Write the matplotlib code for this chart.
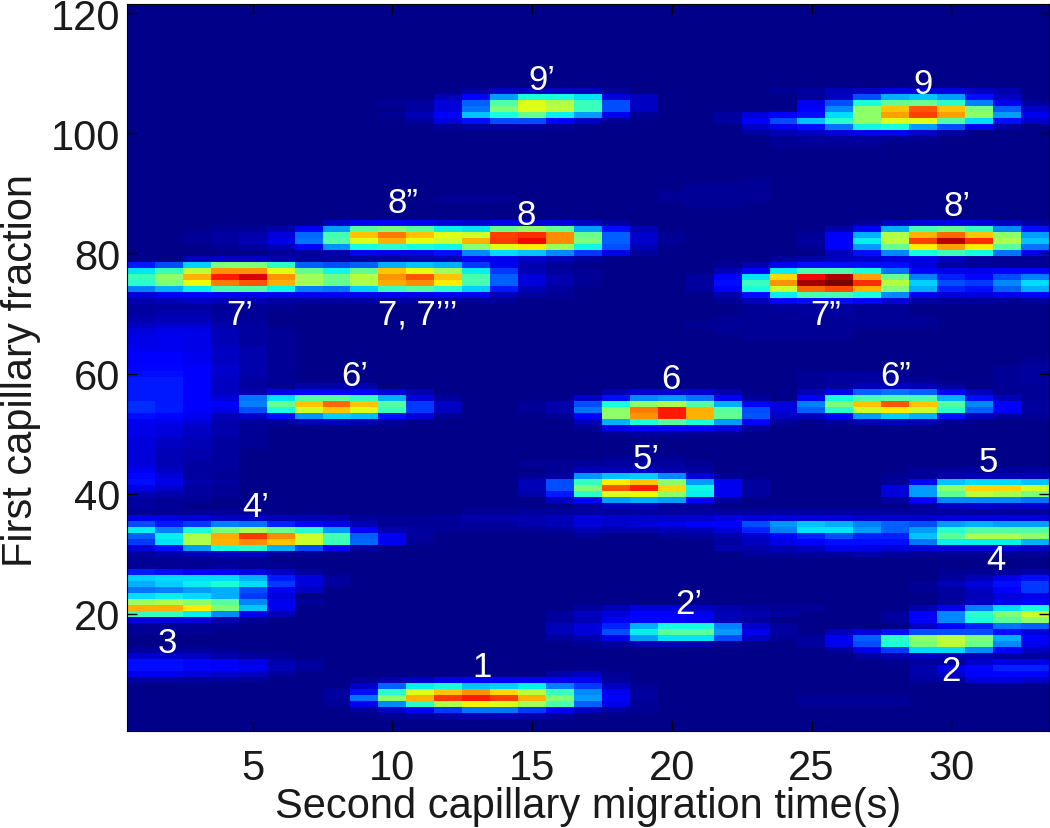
import numpy as np
import matplotlib
matplotlib.use('Agg')
import matplotlib.pyplot as plt

plt.rcParams['font.family'] = ['Liberation Sans', 'DejaVu Sans']

# Intensity, 0-100 on the jet scale. Each list is one
# row of the image, 33 columns. Rows not listed stay at the background.
background = 1
n_rows = 121
n_cols = 33

# rows 107 down to 98
spots_9 = [
    [1,1,1,1,1,1,1,1,1,1,1, 1,3,6,6,6,5,3,1,1,1,1, 1,2,3,5,6,8,8,8,6,4,1],
    [1,1,1,1,1,1,1,1,1,1,1, 5,12,28,38,38,35,8,6,1,1,1, 1,1,2,6,20,30,32,28,14,6,1],
    [1,1,1,1,1,1,1,1,1,2,3, 8,22,45,62,56,42,20,6,1,1,1, 1,1,10,20,38,47,48,40,25,10,3],
    [1,1,1,1,1,1,1,1,1,1,3, 8,24,50,62,58,42,20,6,1,1,1, 1,1,12,26,52,70,82,70,50,22,7],
    [1,1,1,1,1,1,1,1,1,2,5, 11,32,38,48,36,28,10,2,1,1,3, 8,12,14,34,52,74,84,74,52,28,10],
    [1,1,1,1,1,1,1,1,1,1,3, 8,14,20,20,12,6,2,1,1,1,3, 12,20,32,40,52,62,62,45,34,14,7],
    [1,1,1,1,1,1,1,1,1,1,1, 2,3,3,3,2,1,1,1,1,1,1, 6,10,14,24,37,38,28,20,10,3,1],
    [1,1,1,1,1,1,1,1,1,1,1, 1,1,1,1,1,1,1,1,1,1,1, 3,4,6,8,9,10,7,3,1,1,1],
    [1,1,1,1,1,1,1,1,1,1,1, 1,1,1,1,1,1,1,1,1,1,1, 1,2,3,3,3,2,2,1,1,1,1],
    [1,1,1,1,1,1,1,1,1,1,1, 1,1,1,1,1,1,1,1,1,1,1, 1,2,2,2,2,1,1,1,1,1,1],
]

# rows 92 down to 88
faint_patch = [
    [1,1,1,1,1,1,1,1,1,1,1, 1,1,1,1,1,1,1,1,1,1,1, 2,1,1,1,1,1,1,1,1,1,1],
    [1,1,1,1,1,1,1,1,1,1,1, 1,1,1,1,1,1,1,1,1,2,2, 2,1,1,1,1,1,1,1,1,1,1],
    [1,1,1,1,1,1,1,1,1,1,1, 1,1,1,1,1,1,1,1,2,2,2, 2,1,1,1,1,1,1,1,1,1,1],
    [1,1,1,1,1,1,1,1,1,1,1, 2,2,2,1,1,1,1,1,2,2,2, 2,1,1,1,1,1,1,1,1,1,1],
    [1,1,1,1,1,1,1,1,1,1,1, 1,1,1,1,1,1,1,1,1,2,2, 1,1,1,1,1,1,1,1,1,1,1],
]

# rows 85 down to 72
spots_7_8 = [
    [1,1,1,1,1,1,1,6,10,12,10, 8,7,9,8,8,6,3,1,1,1,1, 1,1,1,1,2,6,8,9,8,6,3],
    [1,1,1,2,2,4,12,28,46,50,46, 36,35,48,52,47,28,14,5,1,1,1, 1,1,1,4,12,30,44,48,42,26,14],
    [1,1,2,3,4,8,23,43,70,78,70, 62,60,84,86,76,48,22,7,2,1,1, 1,1,2,12,30,56,72,80,70,52,28],
    [1,1,2,3,5,9,24,45,62,72,63, 60,72,85,90,76,50,22,7,2,1,1, 1,1,3,12,36,58,84,95,86,56,32],
    [1,1,1,2,3,5,13,27,38,40,38, 37,52,62,66,54,37,20,5,1,1,1, 1,1,2,11,28,48,66,74,66,46,24],
    [1,1,1,1,1,2,3,4,10,9,9, 14,26,34,32,26,18,9,3,1,1,1, 1,1,1,5,14,26,38,43,38,24,10],
    [1,1,5,6,6,4,3,3,3,3,4, 5,10,10,7,5,3,1,1,1,1,1, 1,3,4,6,7,8,9,6,3,2,2],
    [15,20,33,50,50,40,22,20,22,30,32, 30,18,10,4,2,1,1,1,1,1,2, 5,10,14,14,14,14,8,3,2,2,2],
    [35,42,58,75,75,62,47,37,47,70,63, 55,36,18,5,3,2,1,1,1,1,5, 12,36,44,44,38,24,11,9,9,11,12],
    [42,52,72,88,92,75,55,48,57,75,82, 70,44,22,8,4,2,1,1,1,3,12, 35,68,90,96,74,48,25,16,13,20,25],
    [40,50,64,78,82,72,55,47,56,73,76, 66,44,22,8,4,2,1,1,1,3,14, 42,75,97,100,86,57,33,20,18,26,34],
    [25,30,36,44,45,37,25,24,33,42,45, 40,33,15,5,3,1,1,1,1,3,12, 38,60,80,83,72,50,30,16,14,22,30],
    [8,10,12,10,10,10,10,10,10,10,10, 10,10,5,3,2,1,1,1,1,1,4, 14,36,44,44,38,26,10,8,8,10,12],
    [4,5,6,5,4,3,3,3,3,3,3, 3,2,2,1,1,1,1,1,1,1,2, 5,11,14,14,12,8,3,2,2,2,3],
]

# rows 71 down to 38
spots_5_6 = [
    [3,3,3,2,2,2,1,1,1,1,1, 1,1,1,1,1,1,1,1,1,1,1, 2,3,3,3,2,2,1,1,1,1,1],
    [3,4,4,3,2,1,1,1,1,1,1, 1,1,1,1,1,1,1,1,1,1,1, 2,2,3,3,2,2,1,1,1,1,1],
    [4,5,5,3,2,1,1,1,1,1,1, 1,1,1,1,1,1,1,1,1,1,2, 2,2,2,2,2,2,2,1,1,1,1],
    [6,7,7,4,3,1,1,1,1,1,1, 1,1,1,1,1,1,1,1,1,2,2, 2,2,2,2,2,2,2,1,1,1,1],
    [8,9,9,5,3,2,1,1,1,1,1, 1,1,1,1,1,1,1,1,1,1,2, 2,2,2,2,1,1,1,1,1,1,1],
    [9,10,9,5,3,2,1,1,1,1,1, 1,1,1,1,1,1,1,1,1,1,1, 2,2,2,2,1,1,1,1,1,1,1],
    [9,10,9,5,3,2,1,1,1,1,1, 1,1,1,1,1,1,1,1,1,1,1, 1,1,1,1,1,1,1,1,1,1,1],
    [10,10,9,6,4,2,1,1,1,1,1, 1,1,1,1,1,1,1,1,1,1,1, 1,1,1,1,1,1,1,1,1,1,1],
    [11,11,10,6,4,2,1,1,1,1,1, 1,1,1,1,1,1,1,1,1,1,1, 1,1,1,1,1,1,1,1,1,1,1],
    [12,12,10,6,4,2,1,1,1,1,1, 1,1,1,1,1,1,1,1,1,1,1, 1,1,1,1,1,1,1,1,1,1,2],
    [13,13,11,7,4,2,1,1,1,1,1, 1,1,1,1,1,1,1,1,1,1,1, 1,1,1,1,1,1,1,1,1,2,3],
    [14,14,12,7,4,2,1,1,1,1,1, 1,1,1,1,1,1,1,1,1,1,1, 1,1,2,3,3,2,1,1,1,2,3],
    [15,15,12,6,3,2,1,1,1,1,1, 1,1,1,1,1,1,1,1,1,1,1, 1,1,2,3,3,3,2,1,1,2,3],
    [15,15,12,6,3,2,4,4,4,1,1, 1,1,1,1,1,1,1,1,1,1,1, 1,1,2,3,5,6,5,3,1,2,2],
    [15,15,12,6,4,9,12,12,13,8,4, 1,1,1,1,1,1,4,7,8,7,4, 1,1,5,10,22,24,22,12,5,2,2],
    [15,15,12,8,24,35,45,46,42,30,8, 3,1,1,1,1,7,14,26,28,24,12, 3,1,12,38,44,45,44,30,14,5,2],
    [17,15,12,11,25,47,70,80,70,45,18, 6,1,1,2,4,20,38,52,56,45,30, 12,8,25,50,70,82,70,45,26,12,3],
    [17,15,11,9,20,38,60,70,62,42,18, 6,1,1,2,4,24,52,78,88,72,46, 20,8,22,40,60,66,60,40,22,12,3],
    [14,13,10,5,7,14,27,33,31,14,8, 2,1,1,1,2,12,52,75,88,72,47, 21,6,6,12,28,33,30,14,6,3,2],
    [10,10,8,4,3,3,5,6,5,3,1, 1,1,1,1,1,5,30,38,45,38,28, 12,3,1,3,5,6,5,2,1,1,1],
    [9,8,6,4,2,1,1,1,1,1,1, 1,1,1,1,1,2,9,12,13,12,8, 3,1,1,1,1,1,1,1,1,1,1],
    [9,8,6,4,2,1,1,1,1,1,1, 1,1,1,1,1,1,2,3,3,2,2, 1,1,1,1,1,1,1,1,1,1,1],
    [8,6,5,3,2,1,1,1,1,1,1, 1,1,1,1,1,1,1,1,1,1,1, 1,1,1,1,1,1,1,1,1,1,1],
    [8,6,5,3,2,1,1,1,1,1,1, 1,1,1,1,1,1,1,1,1,1,1, 1,1,1,1,1,1,1,1,1,1,1],
    [8,5,4,3,1,1,1,1,1,1,1, 1,1,1,1,1,1,1,1,1,1,1, 1,1,1,1,1,1,1,1,1,1,1],
    [8,5,4,3,1,1,1,1,1,1,1, 1,1,1,1,1,1,2,2,2,1,1, 1,1,1,1,1,1,1,1,1,1,1],
    [8,5,3,3,1,1,1,1,1,1,1, 1,1,1,2,2,3,3,3,3,2,1, 1,1,1,1,1,1,1,1,1,1,1],
    [10,6,3,3,1,1,1,1,1,1,1, 1,1,1,1,2,5,5,6,4,3,1, 1,1,1,1,1,1,2,3,3,3,3],
    [13,8,3,2,1,1,1,1,1,1,1, 1,1,1,2,3,27,32,33,26,8,2, 1,1,1,1,1,2,2,4,5,5,5],
    [14,9,4,3,1,1,1,1,1,1,1, 1,1,1,5,20,42,66,70,52,28,10, 3,1,1,1,1,2,12,32,34,34,32],
    [9,7,3,2,1,1,1,1,1,1,1, 1,1,1,5,20,50,82,88,68,37,10, 3,1,1,1,1,8,28,52,68,68,60],
    [5,4,3,2,1,1,1,1,1,1,1, 1,1,1,4,15,40,62,64,52,36,10, 3,1,1,1,1,8,28,46,58,55,50],
    [3,2,2,1,1,1,1,1,1,1,1, 1,1,1,1,6,12,28,30,28,12,3, 1,1,1,1,1,3,12,26,26,26,24],
    [3,2,1,1,1,1,1,1,1,1,1, 1,1,1,1,1,3,5,5,3,2,1, 1,1,1,1,1,1,3,6,7,6,7],
]

# rows 37 down to 30
spots_4 = [
    [2,2,2,2,2,1,1,1,1,1,1, 1,2,2,3,3,3,3,3,3,3,3, 3,3,3,3,3,3,3,3,3,3,3],
    [10,9,8,6,6,5,5,5,3,2,2, 3,4,4,4,5,8,7,7,7,7,9, 8,8,8,8,7,7,7,8,8,8,8],
    [20,15,18,25,24,16,13,9,5,2,2, 2,3,3,4,5,8,7,8,9,11,12, 20,27,32,30,25,22,20,28,30,28,28],
    [36,25,38,50,55,48,40,28,12,4,3, 2,2,2,2,3,5,4,4,5,5,8, 16,25,35,35,28,22,28,40,45,45,45],
    [22,36,56,73,85,76,60,43,22,10,3, 1,1,1,1,1,2,1,1,2,3,4, 7,12,16,20,16,16,32,46,56,56,52],
    [18,35,56,72,76,70,60,42,23,10,2, 1,1,1,1,1,1,1,1,1,1,3, 6,9,11,14,14,14,24,36,36,36,30],
    [8,14,28,38,40,30,20,12,3,1,1, 1,1,1,1,1,1,1,1,1,1,4, 4,5,6,10,9,8,8,8,8,8,6],
    [3,4,5,6,6,3,2,1,1,1,1, 1,1,1,1,1,1,1,1,1,1,1, 3,3,3,3,4,3,2,2,2,2,2],
]

# rows 29 down to 3
spots_1_2_3 = [
    [2,2,2,2,2,1,1,1,1,1,1, 1,1,1,1,1,1,1,1,1,1,1, 1,1,1,1,1,1,1,1,1,1,1],
    [2,2,2,3,2,2,1,1,1,1,1, 1,1,1,1,1,1,1,1,1,1,1, 1,1,1,1,1,1,1,1,1,1,1],
    [15,14,12,11,9,6,3,1,1,1,1, 1,1,1,1,1,1,1,1,1,1,1, 1,1,1,1,1,1,1,2,2,3,4],
    [33,34,34,34,30,15,8,3,1,1,1, 1,1,1,1,1,1,1,1,1,1,1, 1,1,1,1,1,1,1,3,5,9,14],
    [30,33,36,38,34,18,8,3,1,1,1, 1,1,1,1,1,1,1,1,1,1,1, 1,1,1,1,1,1,2,5,8,14,18],
    [24,25,28,30,20,10,6,1,1,1,1, 1,1,1,1,1,1,1,1,1,1,1, 1,1,1,1,1,1,2,3,6,11,18],
    [34,36,34,30,18,8,1,1,1,1,1, 1,1,1,1,1,1,1,1,1,1,1, 1,1,1,1,1,1,1,3,5,8,9],
    [54,56,52,46,26,10,3,1,1,1,1, 1,1,1,1,1,1,1,1,1,1,1, 1,1,1,1,1,1,1,3,6,10,12],
    [72,72,66,50,32,10,1,1,1,1,1, 1,1,1,1,1,3,5,8,8,6,4, 3,2,2,1,1,1,4,10,25,34,38],
    [42,42,36,26,10,5,1,1,1,1,1, 1,1,1,1,3,6,8,12,12,10,5, 4,3,1,1,1,3,12,26,40,50,60],
    [8,8,8,4,2,1,1,1,1,1,1, 1,1,1,1,3,5,10,13,13,10,5, 3,1,1,1,1,3,12,26,38,46,52],
    [2,2,2,2,1,1,1,1,1,1,1, 1,1,1,1,5,8,16,30,38,38,25, 7,3,1,1,1,1,6,12,16,24,22],
    [2,2,2,1,1,1,1,1,1,1,1, 1,1,1,1,5,8,20,36,46,46,28, 10,3,1,5,8,14,20,20,20,14,8],
    [1,1,1,1,1,1,1,1,1,1,1, 1,1,1,1,3,4,9,28,35,35,20, 6,2,3,10,22,40,52,58,50,30,12],
    [1,1,1,1,1,1,1,1,1,1,1, 1,1,1,1,1,2,3,5,5,4,2, 1,1,3,10,20,38,50,58,48,26,10],
    [3,3,3,2,1,1,1,1,1,1,1, 1,1,1,1,1,1,1,1,1,1,1, 1,1,1,3,9,18,34,34,26,12,6],
    [7,7,6,4,3,2,1,1,1,1,1, 1,1,1,1,1,1,1,1,1,1,1, 1,1,1,1,3,4,6,5,5,3,3],
    [14,14,13,12,9,4,3,1,1,1,1, 1,1,1,1,1,1,1,1,1,1,1, 1,1,1,1,1,2,3,3,7,9,9],
    [14,14,13,12,10,5,3,1,1,1,1, 1,1,1,1,1,1,1,1,1,1,1, 1,1,1,1,1,1,4,9,13,16,16],
    [9,9,8,7,6,3,1,1,1,1,1, 1,1,1,1,4,6,2,1,1,1,1, 1,1,1,1,1,1,4,7,12,13,13],
    [3,3,3,3,2,1,1,1,2,4,6, 10,12,12,12,10,10,3,1,1,1,1, 1,1,1,1,1,1,3,3,8,8,7],
    [1,1,1,1,1,1,1,1,7,22,36, 38,32,33,36,25,18,6,2,1,1,1, 1,1,1,1,1,1,1,1,1,1,1],
    [1,1,1,1,1,1,1,3,14,40,62, 70,75,68,58,42,26,10,3,1,1,1, 1,1,1,1,1,1,1,1,1,1,1],
    [1,1,1,1,1,1,1,3,24,52,72, 85,88,84,72,50,28,11,3,1,1,1, 1,1,2,2,2,2,1,1,1,1,1],
    [1,1,1,1,1,1,1,2,10,26,40, 56,65,62,55,44,22,9,2,1,1,1, 1,1,2,2,2,2,1,1,1,1,1],
    [1,1,1,1,1,1,1,1,3,6,12, 18,24,24,18,11,6,3,2,1,1,1, 1,1,1,1,1,1,1,1,1,1,1],
    [1,1,1,1,1,1,1,1,1,2,3, 4,5,5,4,3,1,1,1,1,1,1, 1,1,1,1,1,1,1,1,1,1,1],
]

x_ticks = [5, 10, 15, 20, 25, 30]
y_ticks = [20, 40, 60, 80, 100, 120]

peak_names = ['9’', '9', '8”', '8', '8’', '7’', '7, 7’’’', '7”', '6’', '6', '6”',
              '5’', '5', '4’', '4', '3', '2’', '2', '1']
peak_x = [15.35, 28.98, 10.37, 14.78, 30.2, 4.54, 10.91, 25.5, 8.66, 19.96, 28.0,
          19.07, 31.34, 5.1, 31.6, 1.93, 20.6, 30.0, 13.2]
peak_y = [109.0, 108.2, 88.4, 86.4, 87.9, 69.9, 69.9, 69.9, 59.7, 59.1, 59.7,
          45.8, 45.4, 37.9, 29.0, 15.3, 21.8, 10.6, 11.3]

# Stack the listed rows into the image
intensity = np.full((n_rows, n_cols), background, dtype=float)
for top_row, block in [(107, spots_9), (92, faint_patch), (85, spots_7_8),
                       (71, spots_5_6), (37, spots_4), (29, spots_1_2_3)]:
    for i, values in enumerate(block):
        intensity[top_row - i - 1] = values

fig = plt.figure(figsize=(10.5, 8.29), dpi=100)
ax = fig.add_axes([127 / 1050, 97 / 829, 922 / 1050, 727 / 829])
ax.imshow(intensity, cmap='jet', vmin=0, vmax=100, origin='lower', aspect='auto',
          interpolation='nearest', extent=[0.5, 33.5, 0.5, 121.5])

for name, x, y in zip(peak_names, peak_x, peak_y):
    ax.text(x, y, name, color='white', fontsize=25, ha='center', va='center')

text_color = '#1a1a1a'
ax.set_xticks(x_ticks)
ax.set_yticks(y_ticks)
ax.tick_params(axis='both', direction='in', length=7, width=1, top=True, right=True,
               labelsize=30, labelcolor=text_color)
ax.tick_params(axis='x', pad=12)
ax.tick_params(axis='y', pad=5)
ax.set_xlabel('Second capillary migration time(s)', fontsize=30, color=text_color, va='top')
ax.set_ylabel('First capillary fraction', fontsize=30, color=text_color, va='bottom')
ax.xaxis.set_label_coords(0.5, -0.0757)
ax.yaxis.set_label_coords(-0.0933, 0.497)

fig.savefig('out.png', dpi=100)
